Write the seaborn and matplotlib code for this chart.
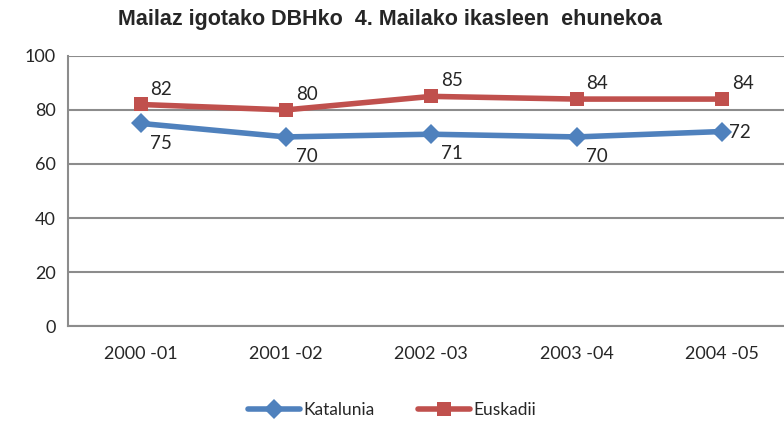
import numpy as np
import pandas as pd
import matplotlib.pyplot as plt
import seaborn as sns

# ── Data ──────────────────────────────────────────────────────────────────────
years = ["2000 -01", "2001 -02", "2002 -03", "2003 -04", "2004 -05"]
katalunia = [75, 70, 71, 70, 72]
euskadii = [82, 80, 85, 84, 84]

BLUE = "#4F81BD"
RED = "#C0504D"

sns.set_style("white")
plt.rcParams["font.family"] = ["Lato", "DejaVu Sans"]

df = pd.DataFrame({
    "year": years * 2,
    "value": katalunia + euskadii,
    "series": ["Katalunia"] * len(years) + ["Euskadii"] * len(years),
})
df["x"] = list(range(len(years))) * 2

fig = plt.figure(figsize=(7.84, 4.23), dpi=100)
ax = fig.add_axes([0.0867, 0.229, 0.927, 0.639])

sns.lineplot(
    data=df, x="x", y="value", hue="series", style="series",
    palette={"Katalunia": BLUE, "Euskadii": RED},
    markers={"Katalunia": "D", "Euskadii": "s"},
    dashes=False, linewidth=4, markersize=10, markeredgewidth=0,
    ax=ax, legend=False,
)

# ── Data labels ───────────────────────────────────────────────────────────────
for i, v in enumerate(euskadii):
    ax.annotate(str(v), (i, v), xytext=(7, 5), textcoords="offset points",
                fontsize=13.5, ha="left", va="bottom")
for i, v in enumerate(katalunia):
    if i == len(katalunia) - 1:
        ax.annotate(str(v), (i, v), xytext=(5, -1), textcoords="offset points",
                    fontsize=13.5, ha="left", va="center")
    else:
        ax.annotate(str(v), (i, v), xytext=(7, -8), textcoords="offset points",
                    fontsize=13.5, ha="left", va="top")

# ── Axes styling ──────────────────────────────────────────────────────────────
ax.set_xlim(-0.5, 4.5)
ax.set_ylim(0, 100)
ax.set_yticks(range(0, 101, 20))
ax.set_xticks(range(len(years)))
ax.set_xticklabels(years)
ax.set_xlabel("")
ax.set_ylabel("")
ax.yaxis.grid(True, color="#8C8C8C", linewidth=1.5)
ax.set_axisbelow(True)
for side in ["top", "right"]:
    ax.spines[side].set_visible(False)
for side in ["left", "bottom"]:
    ax.spines[side].set_color("#8C8C8C")
    ax.spines[side].set_linewidth(1.5)
ax.set_xticks(np.arange(-0.5, 4.6, 1), minor=True)
ax.tick_params(axis="x", which="major", length=0, pad=14, labelsize=13)
ax.tick_params(axis="x", which="minor", length=5, width=1.5, color="#8C8C8C")
ax.tick_params(axis="y", length=5, width=1.5, color="#8C8C8C", labelsize=13, pad=4)

fig.text(0.497, 0.953, "Mailaz igotako DBHko  4. Mailako ikasleen  ehunekoa",
         ha="center", va="center", fontsize=15.5, fontweight="bold",
         family=["Liberation Sans", "DejaVu Sans"])

handles = [
    plt.Line2D([], [], color=BLUE, marker="D", linewidth=4, markersize=10, markeredgewidth=0),
    plt.Line2D([], [], color=RED, marker="s", linewidth=4, markersize=10, markeredgewidth=0),
]
fig.legend(handles, ["Katalunia", "Euskadii"], loc="center", bbox_to_anchor=(0.5, 0.03),
           ncol=2, frameon=False, fontsize=12.5, handlelength=3, columnspacing=2.5,
           handletextpad=0.2)

fig.savefig("out.png", dpi=100)
